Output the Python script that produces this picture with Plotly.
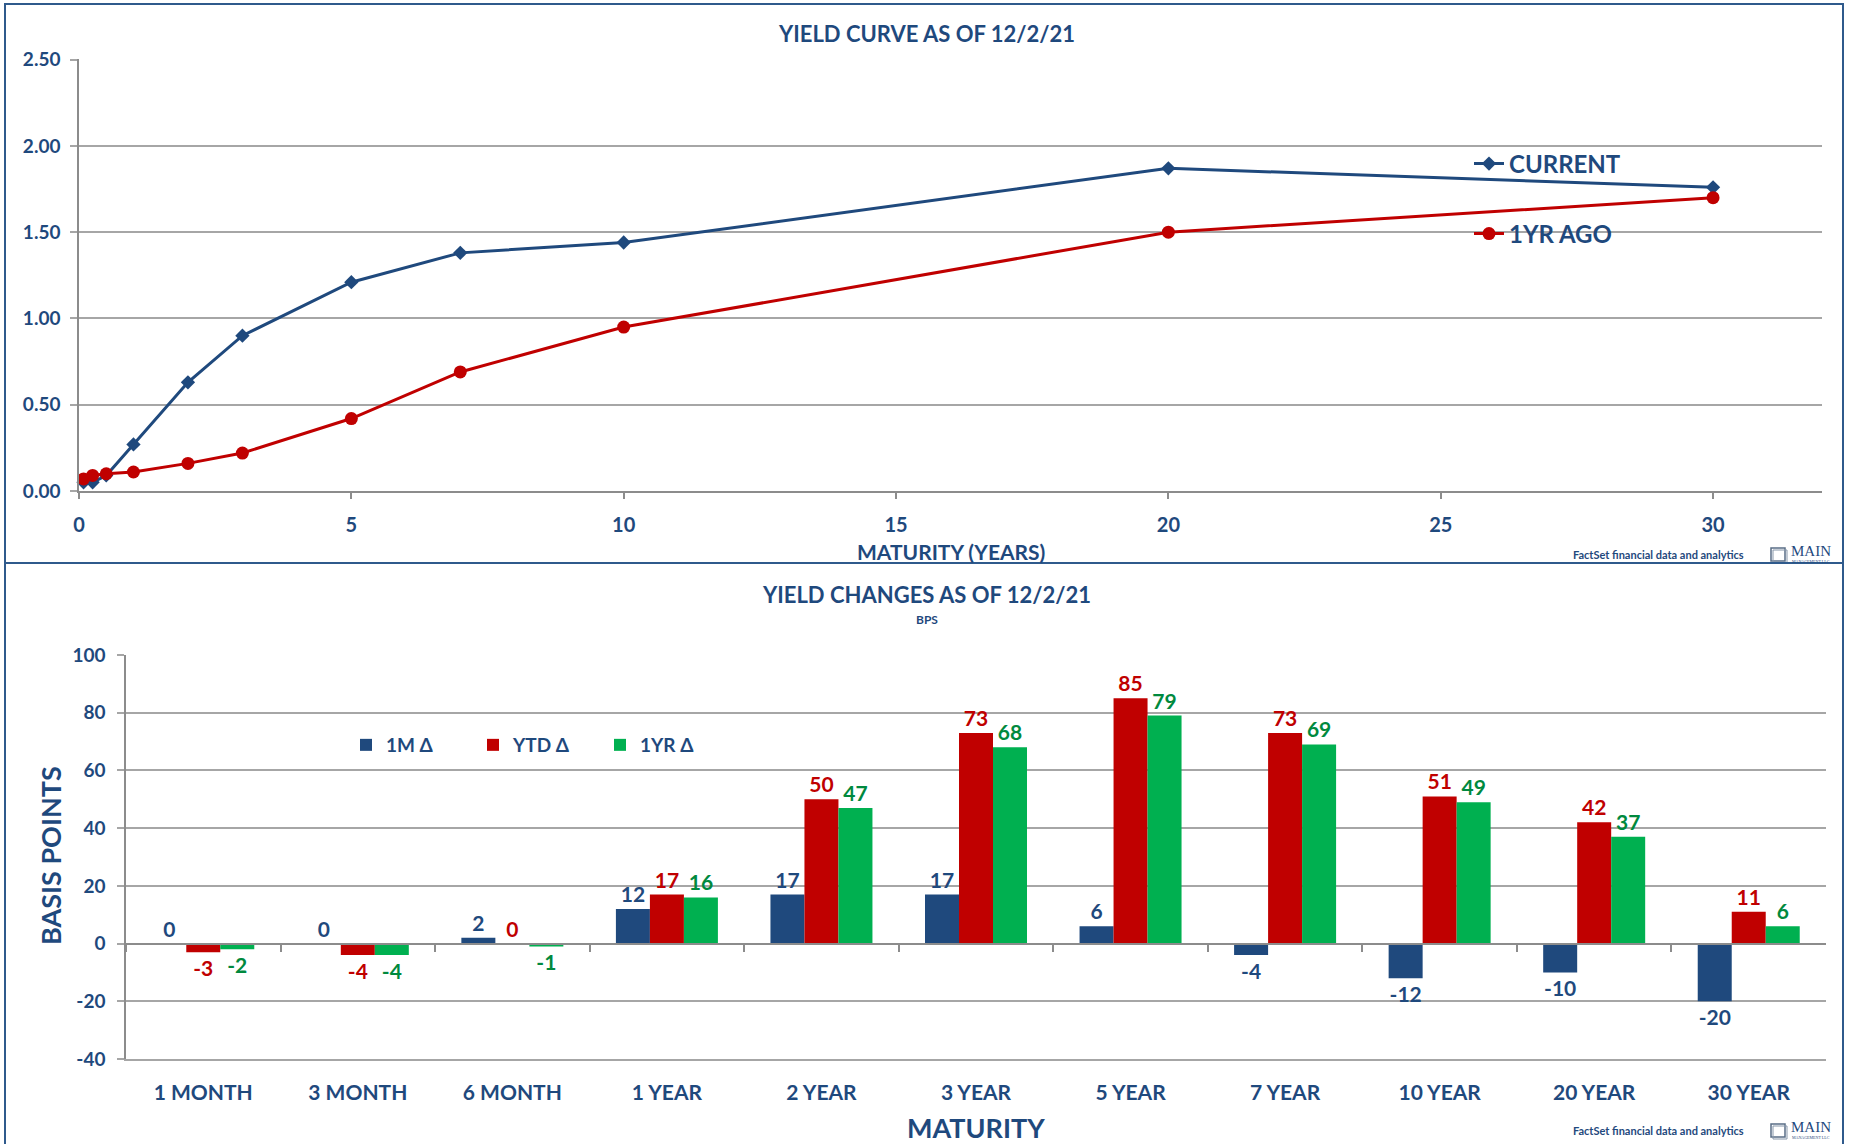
import plotly.graph_objects as go

# ---- Yield curve (percent) ----
maturity_years = [1 / 12, 0.25, 0.5, 1, 2, 3, 5, 7, 10, 20, 30]
current_yield = [0.05, 0.05, 0.09, 0.27, 0.63, 0.90, 1.21, 1.38, 1.44, 1.87, 1.76]
year_ago_yield = [0.07, 0.09, 0.10, 0.11, 0.16, 0.22, 0.42, 0.69, 0.95, 1.50, 1.70]

# ---- Yield changes (basis points) ----
maturity_labels = ["1 MONTH", "3 MONTH", "6 MONTH", "1 YEAR", "2 YEAR", "3 YEAR",
                   "5 YEAR", "7 YEAR", "10 YEAR", "20 YEAR", "30 YEAR"]
chg_1m = [0, 0, 2, 12, 17, 17, 6, -4, -12, -10, -20]
chg_ytd = [-3, -4, 0, 17, 50, 73, 85, 73, 51, 42, 11]
chg_1yr = [-2, -4, -1, 16, 47, 68, 79, 69, 49, 37, 6]
bps_ticks = [-40, -20, 0, 20, 40, 60, 80, 100]

W, H = 1849, 1144
NAVY = "#1F497D"
RED = "#C00000"
GREEN = "#00B050"
GREEN_TXT = "#00893E"
GRID = "#A6A6A6"
AXIS = "#8C8C8C"
BORDER = "#2F5A8C"
FONT = "Lato"


def px_x(x):
    return x / W


def px_y(y):
    return 1 - y / H


fig = go.Figure()

# top panel: yield curves
fig.add_trace(go.Scatter(
    x=maturity_years, y=current_yield, name="CURRENT", mode="lines+markers",
    line=dict(color=NAVY, width=3), marker=dict(symbol="diamond", size=11, color=NAVY),
    xaxis="x", yaxis="y", legend="legend2", cliponaxis=False))
fig.add_trace(go.Scatter(
    x=maturity_years, y=year_ago_yield, name="1YR AGO", mode="lines+markers",
    line=dict(color=RED, width=3), marker=dict(symbol="circle", size=13, color=RED),
    xaxis="x", yaxis="y", legend="legend3", cliponaxis=False))

# bottom panel: grouped changes
for name, vals, col, tcol in [("1M Δ", chg_1m, NAVY, NAVY),
                              ("YTD Δ", chg_ytd, RED, RED),
                              ("1YR Δ", chg_1yr, GREEN, GREEN_TXT)]:
    fig.add_trace(go.Bar(
        x=maturity_labels, y=vals, name=name, marker=dict(color=col, line=dict(width=0)),
        text=[str(v) for v in vals], textposition="outside", constraintext="none",
        textfont=dict(family=FONT, size=21, color=tcol, weight="bold"),
        cliponaxis=False, xaxis="x2", yaxis="y2", legend="legend"))

# empty trace so the category-label axis along the bottom edge is drawn
fig.add_trace(go.Scatter(x=[], y=[], xaxis="x3", yaxis="y2", showlegend=False,
                         hoverinfo="skip"))

top_x = [px_x(79), px_x(1822)]
top_y = [px_y(491), px_y(59)]
bot_x = [px_x(126), px_x(1826)]
bot_y = [px_y(1059), px_y(655)]
zero_pos = bot_y[0] + (bot_y[1] - bot_y[0]) * 40 / 140

tick_font = dict(family=FONT, size=19, color=NAVY, weight="bold")

fig.update_layout(
    template="none",
    width=W, height=H, margin=dict(l=0, r=0, t=0, b=0, pad=0),
    paper_bgcolor="white", plot_bgcolor="white",
    font=dict(family=FONT, color=NAVY, weight="bold"),
    barmode="group", bargap=0.34, bargroupgap=0,
    showlegend=True, hovermode=False,
    xaxis=dict(domain=top_x, anchor="y", range=[0, 32], tickvals=[0, 5, 10, 15, 20, 25, 30],
               showgrid=False, zeroline=False, showline=True, linecolor=AXIS, linewidth=1.5,
               ticks="outside", ticklen=6, tickcolor=AXIS, tickwidth=1.5, automargin=False,
               ticklabelstandoff=9, tickfont=dict(family=FONT, size=20, color=NAVY, weight="bold")),
    yaxis=dict(domain=top_y, anchor="x", range=[0, 2.5035], tickvals=[0, 0.5, 1, 1.5, 2, 2.5],
               tickformat=".2f", automargin=False,
               showgrid=True, gridcolor=GRID, gridwidth=1.5, zeroline=False,
               showline=True, linecolor=AXIS, linewidth=1.5,
               ticks="outside", ticklen=7, tickcolor=GRID, tickwidth=1.5,
               ticklabelstandoff=6, tickfont=tick_font),
    xaxis2=dict(domain=bot_x, anchor="free", position=zero_pos, type="category",
                showticklabels=False, showgrid=False, zeroline=False, automargin=False,
                showline=True, linecolor=AXIS, linewidth=2,
                ticks="outside", tickson="boundaries", ticklen=7, tickcolor=AXIS, tickwidth=1.5),
    xaxis3=dict(domain=bot_x, overlaying="x2", anchor="y2", range=[-0.5, 10.5],
                tickmode="array", tickvals=list(range(len(maturity_labels))),
                ticktext=maturity_labels, automargin=False,
                showgrid=False, zeroline=False, showline=True, linecolor=GRID, linewidth=1.5,
                ticks="", ticklabelstandoff=14,
                tickfont=dict(family=FONT, size=21, color=NAVY, weight="bold")),
    yaxis2=dict(domain=bot_y, anchor="x2", range=[-40, 100], automargin=False,
                tickmode="array", tickvals=bps_ticks, ticktext=[str(t) for t in bps_ticks],
                showgrid=True, gridcolor=GRID, gridwidth=1.5, zeroline=False,
                showline=True, linecolor=AXIS, linewidth=1.5,
                ticks="outside", ticklen=7, tickcolor=GRID, tickwidth=1.5,
                ticklabelstandoff=8, tickfont=tick_font),
    legend=dict(orientation="h", x=px_x(346), y=px_y(745), xanchor="left", yanchor="middle",
                entrywidth=82, entrywidthmode="pixels", itemwidth=30,
                font=dict(family=FONT, size=19, color=NAVY, weight="bold"),
                bgcolor="rgba(0,0,0,0)", traceorder="normal"),
    legend2=dict(x=px_x(1469), y=px_y(164), xanchor="left", yanchor="middle",
                 font=dict(family=FONT, size=24, color=NAVY, weight="bold"),
                 bgcolor="rgba(0,0,0,0)", itemwidth=30),
    legend3=dict(x=px_x(1469), y=px_y(234), xanchor="left", yanchor="middle",
                 font=dict(family=FONT, size=24, color=NAVY, weight="bold"),
                 bgcolor="rgba(0,0,0,0)", itemwidth=30),
)

ann = []


def add_text(x, y, text, size, xanchor="center", family=FONT, color=NAVY, angle=0, weight="bold"):
    ann.append(dict(x=px_x(x), y=px_y(y), xref="paper", yref="paper", text=text,
                    showarrow=False, xanchor=xanchor, yanchor="middle", textangle=angle,
                    font=dict(family=family, size=size, color=color, weight=weight)))


add_text(926, 34, "YIELD CURVE AS OF 12/2/21", 22)
add_text(951, 551, "MATURITY (YEARS)", 21)
add_text(926, 594, "YIELD CHANGES AS OF 12/2/21", 22)
add_text(927, 619, "BPS", 12)
add_text(976, 1127, "MATURITY", 27)
add_text(50, 856, "BASIS POINTS", 27, angle=-90)

# footers with logo
shapes = []
for fy in (554, 1130):
    add_text(1746, fy, "FactSet financial data and analytics", 11, xanchor="right")
    add_text(1811, fy - 3, "MAIN", 15, family="Liberation Serif", weight="normal")
    add_text(1811, fy + 7, "MANAGEMENT LLC", 4, family="Liberation Serif", weight="normal")
    shapes.append(dict(type="rect", xref="paper", yref="paper",
                       x0=px_x(1771), x1=px_x(1785), y0=px_y(fy + 7), y1=px_y(fy - 6),
                       line=dict(color="#5A6E86", width=1.5), fillcolor="rgba(0,0,0,0)"))
    shapes.append(dict(type="rect", xref="paper", yref="paper",
                       x0=px_x(1773), x1=px_x(1787), y0=px_y(fy + 9), y1=px_y(fy - 4),
                       line=dict(color="#8797AA", width=1), fillcolor="rgba(0,0,0,0)"))

# panel frames
for y0, y1 in [(4, 563), (563, 1150)]:
    shapes.append(dict(type="rect", xref="paper", yref="paper",
                       x0=px_x(5), x1=px_x(1843), y0=px_y(y1), y1=px_y(y0),
                       line=dict(color=BORDER, width=2), fillcolor="rgba(0,0,0,0)", layer="above"))

fig.update_layout(annotations=ann, shapes=shapes)

fig.write_html("out.html")
